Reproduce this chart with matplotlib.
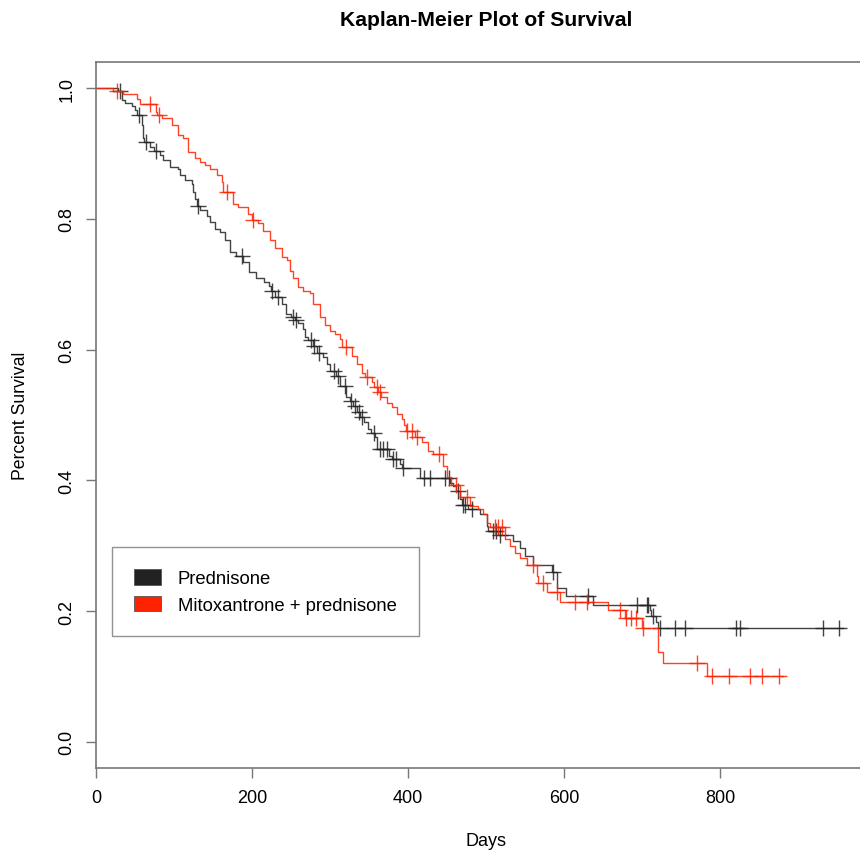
import numpy as np
import matplotlib
matplotlib.use("Agg")
import matplotlib.pyplot as plt
from matplotlib.patches import Patch

plt.rcParams['font.family'] = ['Liberation Sans', 'DejaVu Sans']

# Prednisone arm: step times (days) and survival after each step
pred_t = [0, 28.6, 32.9, 37, 46, 50, 53, 58.5, 60.7, 62, 69, 74, 82, 86.3, 95,
          105.6, 107.7, 114, 122.6, 124.8, 127, 129, 133, 142, 146, 152.6, 159,
          165, 172, 180, 189, 196, 205, 215, 222, 224, 230, 238, 243, 250, 255,
          259, 266, 268, 272, 278, 283, 291, 296, 300, 308, 313, 321, 325, 330,
          335, 339, 343, 349, 353, 358, 360, 375, 379, 390, 392, 416, 454, 458,
          462, 466.7, 469, 477, 492, 501, 503, 516, 535, 543.6, 550, 560.7, 584,
          590.6, 603, 637.6, 710, 712, 718, 721]
pred_s = [1.0, 0.995, 0.982, 0.977, 0.972, 0.967, 0.959, 0.944, 0.923, 0.918,
          0.910, 0.904, 0.897, 0.890, 0.880, 0.877, 0.867, 0.859, 0.854, 0.841,
          0.831, 0.820, 0.813, 0.805, 0.795, 0.785, 0.780, 0.767, 0.749, 0.743,
          0.734, 0.719, 0.709, 0.704, 0.698, 0.690, 0.680, 0.670, 0.655, 0.650,
          0.645, 0.640, 0.632, 0.619, 0.615, 0.605, 0.595, 0.588, 0.578, 0.568,
          0.560, 0.545, 0.527, 0.522, 0.514, 0.505, 0.497, 0.489, 0.479, 0.473,
          0.466, 0.448, 0.438, 0.432, 0.425, 0.419, 0.404, 0.396, 0.392, 0.384,
          0.371, 0.362, 0.356, 0.348, 0.330, 0.322, 0.317, 0.307, 0.297, 0.284,
          0.271, 0.260, 0.236, 0.223, 0.210, 0.202, 0.192, 0.184, 0.174]
pred_cens = [31, 55.6, 64, 76.5, 131, 187, 225, 233, 252, 257, 275, 280, 286,
             305, 310, 319, 327, 332, 337, 341, 356, 364, 368, 373, 381, 385,
             394, 420, 428, 447, 452, 464.5, 470, 473, 481.6, 509, 513, 518,
             586, 631, 693, 706, 708, 714.5, 723, 742, 755, 821, 826, 932, 952]
pred_end = 958

# Mitoxantrone + prednisone arm
mp_t = [0, 22, 35, 52, 56, 77, 78, 84, 97, 105.6, 112, 118, 127, 133, 140, 146,
        155, 161, 163, 175, 182.5, 195, 199.6, 208, 214.5, 223, 229.5, 238,
        244.5, 248.7, 253, 259, 266, 274, 278.6, 287, 293.6, 300, 306, 313, 315,
        328, 334, 340.6, 345, 353.4, 357, 362, 366, 372.7, 379, 385.5, 392, 395,
        397, 409, 418, 425, 432.5, 445, 450, 455, 466.7, 479.5, 490, 496.6, 501,
        505, 524, 531, 537, 543.6, 552, 565, 567, 578, 595, 657, 678, 699.6, 721,
        727, 783]
mp_s = [1.0, 0.996, 0.991, 0.983, 0.975, 0.964, 0.959, 0.954, 0.944, 0.928,
        0.923, 0.903, 0.893, 0.887, 0.882, 0.877, 0.867, 0.857, 0.841, 0.823,
        0.818, 0.808, 0.798, 0.793, 0.781, 0.767, 0.755, 0.742, 0.737, 0.721,
        0.709, 0.696, 0.690, 0.686, 0.670, 0.650, 0.637, 0.629, 0.624, 0.617,
        0.604, 0.591, 0.578, 0.565, 0.558, 0.550, 0.543, 0.535, 0.527, 0.519,
        0.512, 0.502, 0.494, 0.484, 0.476, 0.466, 0.459, 0.445, 0.440, 0.422,
        0.405, 0.393, 0.374, 0.361, 0.356, 0.348, 0.335, 0.328, 0.310, 0.300,
        0.289, 0.282, 0.271, 0.254, 0.243, 0.230, 0.214, 0.202, 0.189, 0.174,
        0.138, 0.120, 0.100]
mp_cens = [27, 69, 81, 167.5, 201.7, 321, 347, 360, 364, 399, 405, 412, 440,
           462, 475, 511, 516, 521, 560.7, 573.5, 590.6, 614, 629, 672, 680, 686,
           692, 701, 770, 790, 812, 839, 854, 875]
mp_end = 881

labels = ["Prednisone", "Mitoxantrone + prednisone"]
colors = ["#222222", "#ff2200"]

fig = plt.figure(figsize=(8.6, 8.54), dpi=100)
ax = fig.add_axes([96 / 860, 85 / 854, 780 / 860, 706 / 854])


def km(ax, t, s, cens, tend, col):
    t = np.asarray(t, float)
    s = np.asarray(s, float)
    tt = np.append(t, tend)
    ss = np.append(s, s[-1])
    ax.step(tt, ss, where='post', color=col, lw=1.0, alpha=0.85)
    c = np.asarray(cens, float)
    idx = np.searchsorted(t, c, side='right') - 1
    ax.plot(c, s[idx], '+', color=col, ms=11, mew=1.0, alpha=0.85)


km(ax, pred_t, pred_s, pred_cens, pred_end, colors[0])
km(ax, mp_t, mp_s, mp_cens, mp_end, colors[1])

ax.set_xlim(0, 1000)
ax.set_ylim(-0.04, 1.04)
ax.set_xticks([0, 200, 400, 600, 800])
ax.set_yticks([0.0, 0.2, 0.4, 0.6, 0.8, 1.0])
ax.set_yticklabels(["0.0", "0.2", "0.4", "0.6", "0.8", "1.0"], rotation=90, va='center')
for sp in ax.spines.values():
    sp.set_color("#777777")
    sp.set_linewidth(1.2)
ax.tick_params(length=7, width=1.0, color="#777777", labelsize=13, pad=8)

ax.set_xlabel("Days", fontsize=13, labelpad=19)
ax.set_ylabel("Percent Survival", fontsize=12.7, labelpad=21)
fig.text(486 / 860, 1 - 20 / 854, "Kaplan-Meier Plot of Survival",
         ha='center', va='center', fontsize=15.2, fontweight='bold')

handles = [Patch(facecolor=colors[i], edgecolor='#555555', lw=0.6) for i in range(2)]
leg = ax.legend(handles, labels, loc='lower left', bbox_to_anchor=(0.0205, 0.187),
                fontsize=13.3, frameon=True, fancybox=False, handlelength=1.45,
                handleheight=0.9, borderpad=1.2, labelspacing=0.45, handletextpad=0.9,
                borderaxespad=0)
leg.get_frame().set_edgecolor("#777777")
leg.get_frame().set_linewidth(1.0)

fig.savefig("out.png", dpi=100)
